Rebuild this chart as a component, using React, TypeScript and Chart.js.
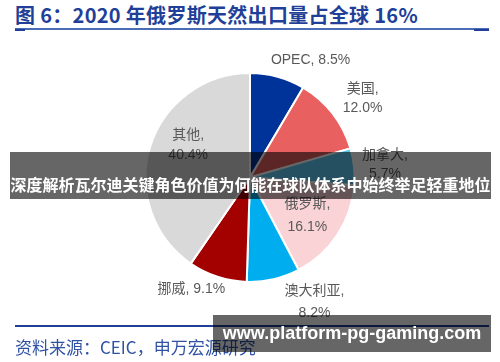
import React, { useEffect, useRef } from "react";
import { Chart, registerables } from "chart.js";

Chart.register(...registerables);

const categories = ["OPEC", "美国", "加拿大", "俄罗斯", "澳大利亚", "挪威", "其他"];
const shares = [8.5, 12.0, 5.7, 16.1, 8.2, 9.1, 40.4];

const COLORS = ["#00339A", "#E8605F", "#5CC8F2", "#F9D3D6", "#00AEEF", "#A30000", "#D9D9D9"];
// label placement: nudge from the slice's outer mid-point (px), and single/double line
const LABEL_NUDGE: [number, number][] = [
  [33, -17],
  [30, -15],
  [31, -2],
  [-30, -19],
  [41, 23],
  [-26, 12],
  [38, -1],
];
const SINGLE_LINE = [true, false, false, false, false, true, false];
const LINE_GAP = [20, 19, 19, 23, 22, 20, 20];

const labelPlugin = {
  id: "sliceLabels",
  afterDatasetsDraw(chart: any) {
    const ctx = chart.ctx as CanvasRenderingContext2D;
    const meta = chart.getDatasetMeta(0);
    ctx.save();
    ctx.font = '14px "Liberation Sans", "Noto Sans CJK SC", sans-serif';
    ctx.fillStyle = "#595959";
    ctx.textAlign = "center";
    ctx.textBaseline = "middle";
    meta.data.forEach((arc: any, i: number) => {
      const p = arc.getProps(["x", "y", "startAngle", "endAngle", "outerRadius"], true);
      const mid = (p.startAngle + p.endAngle) / 2;
      const cx = p.x + Math.cos(mid) * p.outerRadius + LABEL_NUDGE[i][0];
      const cy = p.y + Math.sin(mid) * p.outerRadius + LABEL_NUDGE[i][1];
      const val = shares[i].toFixed(1) + "%";
      const lines = SINGLE_LINE[i] ? [`${categories[i]}, ${val}`] : [`${categories[i]},`, val];
      const lh = LINE_GAP[i];
      lines.forEach((t, k) => {
        ctx.fillText(t, cx, cy + (k - (lines.length - 1) / 2) * lh);
      });
    });
    ctx.restore();
  },
};

export default function App() {
  const ref = useRef<HTMLCanvasElement>(null);
  useEffect(() => {
    if (!ref.current) return;
    const chart = new Chart(ref.current, {
      type: "pie",
      data: {
        labels: categories,
        datasets: [
          {
            data: shares,
            backgroundColor: COLORS,
            borderColor: "#ffffff",
            borderWidth: 2,
          },
        ],
      },
      options: {
        animation: false,
        responsive: false,
        maintainAspectRatio: false,
        layout: { padding: { top: 72, bottom: 79, left: 100, right: 100 } },
        plugins: { legend: { display: false }, tooltip: { enabled: false } },
      },
      plugins: [labelPlugin],
    });
    return () => chart.destroy();
  }, []);

  const cjk = '"Noto Sans CJK SC", "Liberation Sans", sans-serif';
  return (
    <div
      style={{
        position: "fixed",
        left: 0,
        top: 0,
        width: 500,
        height: 362,
        background: "#fff",
        overflow: "hidden",
        fontFamily: cjk,
      }}
    >
      <div
        style={{
          position: "absolute",
          left: 15,
          top: 1,
          fontSize: 20,
          fontWeight: 700,
          letterSpacing: "0.3px",
          color: "#1F3F98",
          whiteSpace: "nowrap",
          lineHeight: "28px",
        }}
      >
        图 6：2020 年俄罗斯天然出口量占全球 16%
      </div>
      <div style={{ position: "absolute", left: 15, top: 28, width: 474, height: 1.5, background: "#4A6DB5" }} />
      <div style={{ position: "absolute", left: 15, top: 29, width: 10, height: 2, background: "#1F3F98" }} />
      <div style={{ position: "absolute", left: 474, top: 29, width: 15, height: 2, background: "#1F3F98" }} />

      <canvas ref={ref} width={500} height={362} style={{ position: "absolute", left: 0, top: 0, width: 500, height: 362 }} />

      <div style={{ position: "absolute", left: 15, top: 325, width: 474, height: 2, background: "#1F3F98" }} />
      <div
        style={{
          position: "absolute",
          left: 15,
          top: 335,
          fontSize: 17,
          color: "#2F52A4",
          whiteSpace: "nowrap",
          lineHeight: "24px",
        }}
      >
        资料来源：CEIC，申万宏源研究
      </div>

      <div
        style={{
          position: "absolute",
          left: 10,
          top: 152,
          width: 481,
          height: 47,
          background: "rgba(0,0,0,0.6)",
        }}
      />
      <div
        style={{
          position: "absolute",
          left: 10,
          top: 172,
          width: 481,
          textAlign: "center",
          fontSize: 16,
          fontWeight: 700,
          color: "#fff",
          whiteSpace: "nowrap",
          lineHeight: "24px",
        }}
      >
        深度解析瓦尔迪关键角色价值为何能在球队体系中始终举足轻重地位
      </div>

      <div
        style={{
          position: "absolute",
          left: 213,
          top: 315,
          width: 278,
          height: 37,
          background: "rgba(0,0,0,0.6)",
          color: "#fff",
          fontFamily: '"Liberation Sans", sans-serif',
          fontWeight: 700,
          fontSize: 18,
          lineHeight: "37px",
          textAlign: "center",
          whiteSpace: "nowrap",
        }}
      >
        www.platform-pg-gaming.com
      </div>
    </div>
  );
}
